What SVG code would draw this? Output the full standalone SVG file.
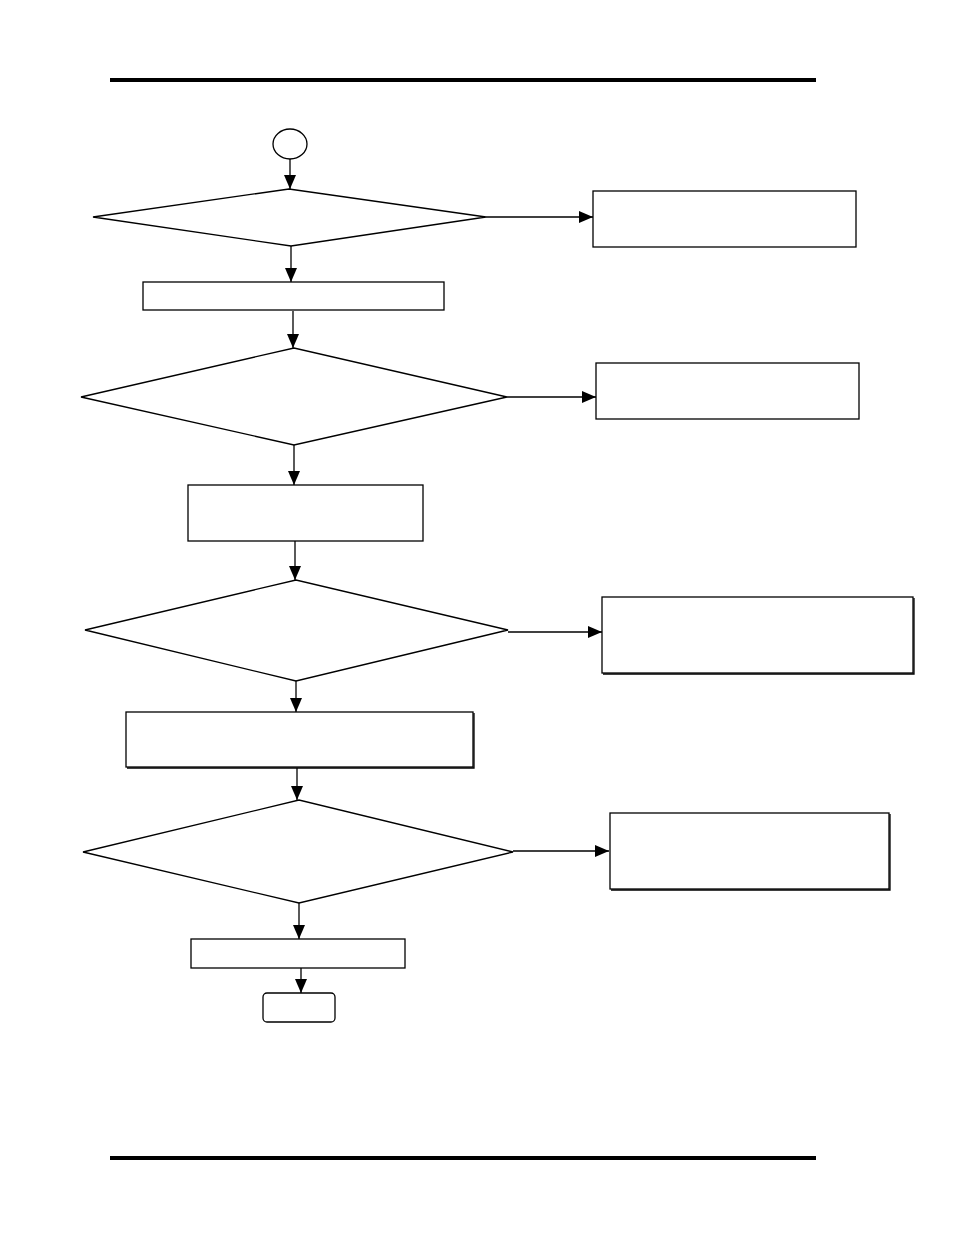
<svg xmlns="http://www.w3.org/2000/svg" width="954" height="1235" viewBox="0 0 954 1235">
<style>
.n{fill:#fff;stroke:#000;stroke-width:1.3}
.c{fill:none;stroke:#000;stroke-width:1.3}
.rule{stroke:#000;stroke-width:4}
</style>
<defs>
<marker id="ah" markerWidth="14" markerHeight="12" refX="14" refY="6" orient="auto" markerUnits="userSpaceOnUse">
<path d="M0,0 L14,6 L0,12 Z" fill="#000"/>
</marker>
</defs>
<rect width="954" height="1235" fill="#fff"/>
<line class="rule" x1="110" y1="80" x2="816" y2="80"/>
<line class="rule" x1="110" y1="1158" x2="816" y2="1158"/>
<g id="start"><ellipse class="n" cx="290" cy="144" rx="17" ry="15"/></g>
<g id="d1"><polygon class="n" points="93,217 289,189 486,217 291,246"/></g>
<g id="r1"><rect class="n" x="593" y="191" width="263" height="56"/></g>
<g id="b2"><rect class="n" x="143" y="282" width="301" height="28"/></g>
<g id="d2"><polygon class="n" points="81,397 294,348 507,397 294,445"/></g>
<g id="r2"><rect class="n" x="596" y="363" width="263" height="56"/></g>
<g id="b3"><rect class="n" x="188" y="485" width="235" height="56"/></g>
<g id="d3"><polygon class="n" points="85,630 296,580 508,630 296,681"/></g>
<g id="r3"><rect class="n" x="602" y="597" width="311" height="76"/><path class="c" d="M603,674 H914 V598" stroke-width="1.5"/></g>
<g id="b4"><rect class="n" x="126" y="712" width="347" height="55"/><path class="c" d="M127,768 H474 V713" stroke-width="1.2"/></g>
<g id="d4"><polygon class="n" points="83,852 299,800 513,852 299,903"/></g>
<g id="r4"><rect class="n" x="610" y="813" width="279" height="76"/><path class="c" d="M611,890 H890 V814" stroke-width="1.2"/></g>
<g id="b5"><rect class="n" x="191" y="939" width="214" height="29"/></g>
<g id="end"><rect class="n" x="263" y="993" width="72" height="29" rx="4"/></g>
<g id="connectors">
<line class="c" x1="290" y1="159" x2="290" y2="189" marker-end="url(#ah)"/>
<line class="c" x1="486" y1="217" x2="593" y2="217" marker-end="url(#ah)"/>
<line class="c" x1="291" y1="246" x2="291" y2="282" marker-end="url(#ah)"/>
<line class="c" x1="293" y1="311" x2="293" y2="348" marker-end="url(#ah)"/>
<line class="c" x1="507" y1="397" x2="596" y2="397" marker-end="url(#ah)"/>
<line class="c" x1="294" y1="445" x2="294" y2="485" marker-end="url(#ah)"/>
<line class="c" x1="295" y1="541" x2="295" y2="580" marker-end="url(#ah)"/>
<line class="c" x1="508" y1="632" x2="602" y2="632" marker-end="url(#ah)"/>
<line class="c" x1="296" y1="681" x2="296" y2="712" marker-end="url(#ah)"/>
<line class="c" x1="297" y1="768" x2="297" y2="800" marker-end="url(#ah)"/>
<line class="c" x1="513" y1="851" x2="609" y2="851" marker-end="url(#ah)"/>
<line class="c" x1="299" y1="903" x2="299" y2="939" marker-end="url(#ah)"/>
<line class="c" x1="301" y1="968" x2="301" y2="993" marker-end="url(#ah)"/>
</g>
</svg>
